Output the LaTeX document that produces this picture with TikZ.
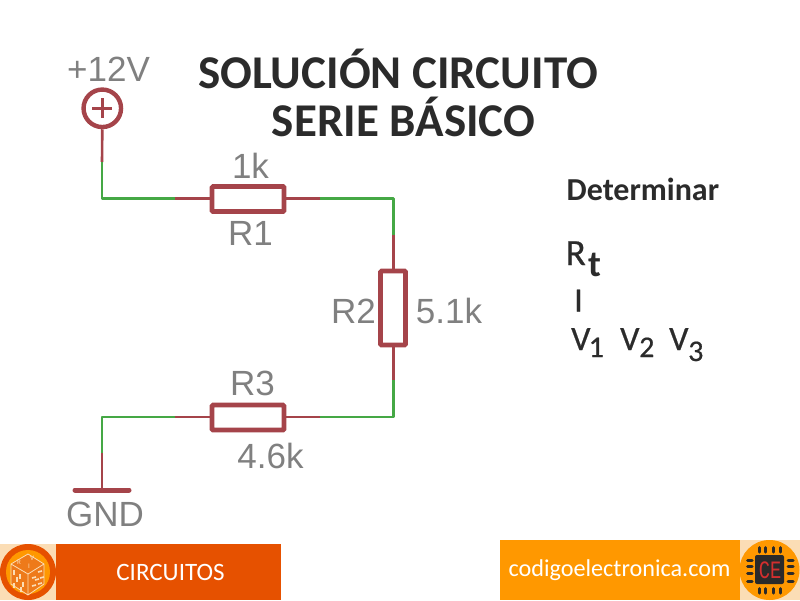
\documentclass[tikz,border=0pt]{standalone}
\usepackage{fontspec}
\setmainfont{Carlito}
\newfontfamily\schem{Liberation Sans}
\newfontfamily\segf{Liberation Mono}
\newfontfamily\medf[FakeBold=0.6]{Carlito}
\definecolor{wred}{HTML}{A5444A}
\definecolor{wgreen}{HTML}{45A845}
\definecolor{lgray}{HTML}{808080}
\definecolor{ink}{HTML}{2B2B2B}
\definecolor{tanbg}{HTML}{FBDDB5}
\definecolor{deep}{HTML}{E65100}
\definecolor{amber}{HTML}{FF9800}
\definecolor{chip}{HTML}{2A2A2A}
\definecolor{segred}{HTML}{D32F2F}
\definecolor{cubeface}{HTML}{EE7A1A}
\tikzset{
  redw/.style={draw=wred,line width=2.6pt},
  greenw/.style={draw=wgreen,line width=2.6pt,line join=round},
  res/.style={draw=wred,line width=4.6pt,fill=white,rounded corners=1pt,minimum width=72pt,minimum height=25pt,inner sep=0pt},
  resv/.style={res,minimum width=25pt,minimum height=74pt},
  lbl/.style={font=\schem\fontsize{35}{38}\selectfont,text=lgray,inner sep=0pt},
  ttl/.style={font=\fontsize{47}{50}\selectfont\bfseries,text=ink,inner sep=0pt,anchor=base},
  det/.style={font=\medf\fontsize{34}{36}\selectfont,text=ink,inner sep=0pt,anchor=base west},
  dets/.style={font=\medf\fontsize{30}{32}\selectfont,text=ink,inner sep=0pt,anchor=base west},
  detb/.style={font=\fontsize{34}{36}\selectfont\bfseries,text=ink,inner sep=0pt,anchor=base west},
  foot/.style={text=white,inner sep=0pt},
  pin/.style={draw=chip,line width=3pt,line cap=round},
  cube/.style={draw=tanbg,line width=.8pt},
}
\begin{document}
\begin{tikzpicture}[x=1pt,y=-1pt]
\useasboundingbox (0,0) rectangle (800,600);
% footer
\fill[tanbg] (0,544) rectangle (56,600);
\fill[deep] (56,544) rectangle (281,600);
\fill[amber] (500,540) rectangle (740,600);
\fill[tanbg] (740,540) rectangle (800,600);
\node[foot,font=\fontsize{25}{27}\selectfont] (cat) at (170.5,572) {CIRCUITOS};
\node[foot,font=\fontsize{24.2}{26}\selectfont] (web) at (619.5,570) {codigoelectronica.com};
% left logo
\fill[deep] (28,572) circle (28);
\fill[amber] (28,572) circle (22);
\fill[cubeface] (28,554) -- (44,564) -- (44,584) -- (28,595) -- (11,584) -- (11,564) -- cycle;
\draw[cube] (11,564) -- (28,574) -- (44,564) (28,574) -- (28,595) (28,554) -- (44,564) -- (44,584) -- (28,595) -- (11,584) -- (11,564) -- cycle;
\foreach \x/\y in {14/570,17/577,20/574,23/582,14/583,21/587}{\draw[tanbg,line width=2pt] (\x,\y) -- ++(0,5);}
\foreach \x/\y in {32/578,38/572,32/586,38/584,35/580,40/578}{\draw[tanbg,line width=1.6pt] (\x,\y) -- ++(4,-1);}
\node[text=tanbg,font=\fontsize{7}{7}\selectfont,inner sep=0pt] (cr) at (19,562) {R};
\node[text=tanbg,font=\fontsize{7}{7}\selectfont,inner sep=0pt] (cv) at (32,558) {V};
\node[text=tanbg,font=\fontsize{7}{7}\selectfont,inner sep=0pt] (ci) at (29,566) {I};
% right logo
\fill[amber] (769.5,570) circle (30);
\fill[chip,rounded corners=2pt] (755,555) rectangle (784,584);
\foreach \x in {759,765,773,780}{\draw[pin] (\x,547.5) -- (\x,552); \draw[pin] (\x,588.5) -- (\x,593);}
\foreach \y in {560,566,573,581}{\draw[pin] (747.5,\y) -- (752,\y); \draw[pin] (788,\y) -- (793,\y);}
\node[text=segred,font=\segf\fontsize{25}{25}\selectfont,inner sep=0pt,xscale=.75] (ce) at (770,570) {CE};
% title
\node[ttl] (t1) at (398,88.5) {SOLUCIÓN CIRCUITO};
\node[ttl] (t2) at (403.5,136.5) {SERIE BÁSICO};
% determine
\node[inner sep=0pt,anchor=base west,text=ink,font=\fontsize{32}{34}\selectfont\bfseries] (d) at (566.5,200.5) {Determinar};
\node[det,font=\medf\fontsize{37}{38}\selectfont] (rt) at (565.5,265) {R};
\node[detb,font=\fontsize{37}{38}\selectfont\bfseries] (rts) at (588,276) {t};
\node[det] (ii) at (574,311.5) {I};
\node[det] (v1) at (571,350) {V};
\node[dets] (v1s) at (588.5,357) {1};
\node[det] (v2) at (620,350) {V};
\node[dets] (v2s) at (639,357) {2};
\node[det] (v3) at (669,350) {V};
\node[dets] (v3s) at (688,361) {3};
% schematic
\node[res] (r1) at (248,199) {};
\node[resv] (r2) at (393,308) {};
\node[res] (r3) at (248,417.5) {};
\coordinate (a1) at (102,162);
\coordinate (a2) at (102,198.5);
\coordinate (a3) at (175,198.5);
\coordinate (b1) at (320,198.5);
\coordinate (b2) at (393.5,198.5);
\coordinate (b3) at (393.5,235);
\coordinate (c1) at (393.5,380);
\coordinate (c2) at (393.5,417);
\coordinate (c3) at (320,417);
\coordinate (d1) at (175,417);
\coordinate (d2) at (102,417);
\coordinate (d3) at (102,453);
\node[draw=wred,line width=4.4pt,circle,minimum size=37.5pt,inner sep=0pt] (vcc) at (102.3,108.3) {};
\draw[wred,line width=2.6pt] (92.3,108.3) -- (112.3,108.3) (102.3,98.3) -- (102.3,118.3);
\coordinate (gndl) at (73,490);
\coordinate (gndr) at (131,490);
\coordinate (gndc) at (102,490);
\draw[draw=wred,line width=5pt,line cap=round] ([xshift=2pt]gndl) -- ([xshift=-2pt]gndr);
\draw[redw] (vcc.south) -- (a1);
\draw[greenw] (a1) -- (a2) -- (a3);
\draw[redw] (a3) -- (a3 -| r1.west);
\draw[redw] (r1.east |- b1) -- (b1);
\draw[greenw] (b1) -- (b2) -- (b3);
\draw[redw] (b3) -- (r2.north -| b3);
\draw[redw] (r2.south -| c1) -- (c1);
\draw[greenw] (c1) -- (c2) -- (c3);
\draw[redw] (c3) -- (c3 -| r3.east);
\draw[redw] (d1 -| r3.west) -- (d1);
\draw[greenw] (d1) -- (d2) -- (d3);
\draw[redw] (d3) -- (gndc);
\node[lbl] (l12) at (108.5,69) {+12V};
\node[lbl] (l1k) at (250.5,166) {1k};
\node[lbl] (lr1) at (250.5,233.5) {R1};
\node[lbl] (lr2) at (353.5,311) {R2};
\node[lbl] (l51) at (449,310.5) {5.1k};
\node[lbl] (lr3) at (252.5,383.5) {R3};
\node[lbl] (l46) at (270.5,456) {4.6k};
\node[lbl] (lg) at (105,514.5) {GND};
\end{tikzpicture}
\end{document}
